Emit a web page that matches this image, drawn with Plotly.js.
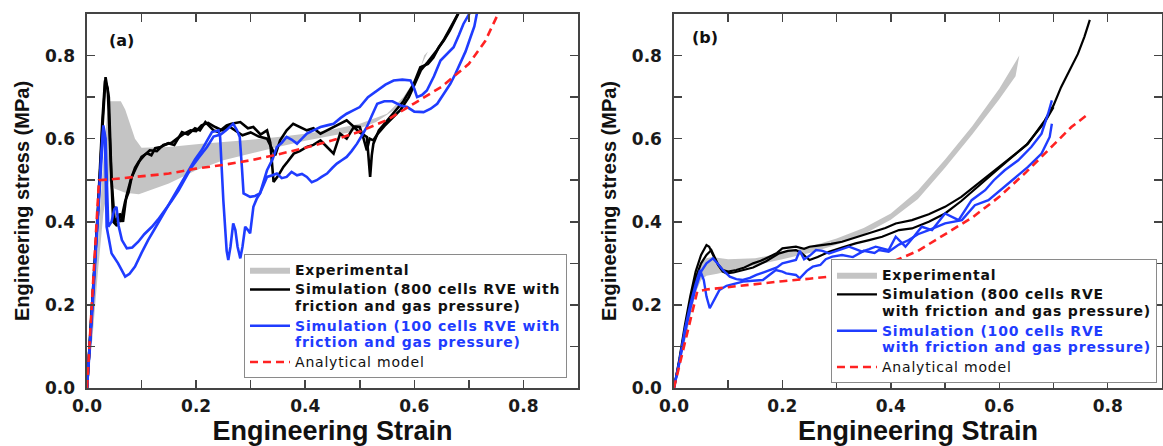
<!DOCTYPE html>
<html>
<head>
<meta charset="utf-8">
<script src="https://cdn.plot.ly/plotly-3.0.1.min.js"></script>
<style>html,body{margin:0;padding:0;background:#fff;}#chart{width:1163px;height:446px;}</style>
</head>
<body>
<div id="chart"></div>
<script>
// ---------------- Panel (a) ----------------
const aExpUpperStrain = [0,0.01,0.02,0.03,0.037,0.042,0.062,0.07,0.078,0.088,0.10,0.15,0.21,0.29,0.35,0.40,0.45,0.50,0.55,0.58,0.60,0.625];
const aExpUpperStress = [0,0.17,0.35,0.55,0.66,0.69,0.69,0.67,0.64,0.60,0.578,0.58,0.588,0.596,0.604,0.612,0.622,0.636,0.66,0.70,0.74,0.81];
const aExpLowerStrain = [0,0.01,0.02,0.03,0.04,0.05,0.07,0.095,0.15,0.2,0.25,0.29,0.35,0.40,0.48,0.53,0.57,0.60,0.618];
const aExpLowerStress = [0,0.12,0.28,0.42,0.50,0.48,0.47,0.466,0.492,0.524,0.548,0.56,0.58,0.595,0.615,0.64,0.675,0.72,0.80];

const aSim800Run1Strain = [0,0.01,0.02,0.028,0.034,0.04,0.045,0.051,0.056,0.062,0.07,0.076,0.082,0.09,0.1,0.11,0.118,0.125,0.135,0.149,0.16,0.174,0.185,0.198,0.207,0.217,0.232,0.241,0.256,0.265,0.281,0.295,0.305,0.318,0.33,0.336,0.339,0.342,0.35,0.36,0.368,0.379,0.39,0.403,0.415,0.428,0.44,0.452,0.464,0.476,0.489,0.5,0.513,0.519,0.522,0.525,0.535,0.548,0.562,0.58,0.599,0.611,0.625,0.635,0.645,0.654,0.665,0.678,0.684];
const aSim800Run1Stress = [0,0.2,0.42,0.62,0.748,0.7,0.5,0.396,0.41,0.4,0.45,0.47,0.508,0.53,0.556,0.565,0.56,0.577,0.58,0.589,0.585,0.616,0.61,0.625,0.62,0.64,0.62,0.616,0.632,0.636,0.64,0.625,0.628,0.61,0.62,0.59,0.548,0.496,0.51,0.532,0.545,0.564,0.57,0.58,0.585,0.596,0.58,0.564,0.612,0.6,0.628,0.615,0.604,0.508,0.56,0.588,0.62,0.64,0.66,0.69,0.732,0.772,0.78,0.795,0.82,0.836,0.86,0.897,0.91];
const aSim800Run2Strain = [0,0.01,0.02,0.028,0.033,0.038,0.043,0.048,0.055,0.06,0.066,0.072,0.08,0.088,0.095,0.105,0.115,0.128,0.14,0.155,0.165,0.178,0.19,0.2,0.21,0.222,0.235,0.248,0.26,0.27,0.285,0.3,0.315,0.33,0.345,0.354,0.366,0.378,0.39,0.403,0.415,0.428,0.44,0.452,0.464,0.476,0.488,0.5,0.507,0.513,0.518,0.525,0.532,0.545,0.56,0.575,0.59,0.6,0.612,0.625,0.64,0.655,0.668,0.68];
const aSim800Run2Stress = [0,0.21,0.43,0.64,0.74,0.72,0.55,0.4,0.39,0.42,0.4,0.46,0.5,0.53,0.545,0.56,0.572,0.57,0.585,0.59,0.6,0.612,0.62,0.618,0.632,0.638,0.628,0.62,0.63,0.622,0.608,0.615,0.605,0.6,0.56,0.596,0.62,0.636,0.628,0.62,0.625,0.612,0.62,0.628,0.635,0.644,0.63,0.628,0.6,0.572,0.6,0.596,0.61,0.63,0.65,0.67,0.7,0.73,0.765,0.785,0.81,0.84,0.87,0.9];

const aSim100Run1Strain = [0,0.01,0.02,0.026,0.03,0.034,0.037,0.039,0.045,0.05,0.054,0.058,0.064,0.073,0.083,0.094,0.105,0.119,0.13,0.143,0.155,0.168,0.18,0.192,0.205,0.22,0.232,0.245,0.255,0.268,0.275,0.28,0.284,0.287,0.299,0.308,0.317,0.33,0.34,0.348,0.357,0.366,0.375,0.385,0.394,0.403,0.412,0.421,0.43,0.44,0.45,0.458,0.467,0.476,0.485,0.495,0.505,0.513,0.522,0.532,0.545,0.56,0.575,0.587,0.6,0.617,0.63,0.642,0.655,0.666,0.675,0.684,0.694,0.703,0.71,0.716];
const aSim100Run1Stress = [0,0.2,0.42,0.56,0.632,0.6,0.45,0.388,0.4,0.43,0.436,0.39,0.356,0.336,0.338,0.352,0.37,0.388,0.405,0.428,0.45,0.476,0.505,0.532,0.555,0.58,0.605,0.61,0.62,0.636,0.62,0.604,0.53,0.468,0.46,0.462,0.468,0.508,0.512,0.516,0.505,0.508,0.52,0.512,0.515,0.508,0.495,0.5,0.508,0.516,0.53,0.54,0.548,0.556,0.57,0.588,0.61,0.628,0.655,0.684,0.69,0.69,0.68,0.676,0.665,0.664,0.672,0.684,0.71,0.732,0.755,0.78,0.81,0.844,0.87,0.91];
const aSim100Run2Strain = [0,0.01,0.02,0.026,0.03,0.033,0.036,0.04,0.045,0.057,0.07,0.078,0.088,0.1,0.112,0.125,0.137,0.149,0.161,0.174,0.186,0.198,0.21,0.22,0.229,0.241,0.244,0.25,0.256,0.259,0.263,0.268,0.272,0.276,0.281,0.285,0.29,0.295,0.299,0.305,0.311,0.317,0.323,0.33,0.34,0.348,0.357,0.366,0.375,0.385,0.394,0.403,0.415,0.428,0.44,0.452,0.465,0.476,0.488,0.5,0.515,0.532,0.547,0.562,0.578,0.593,0.6,0.605,0.614,0.623,0.636,0.648,0.66,0.672,0.682,0.69,0.705];
const aSim100Run2Stress = [0,0.19,0.41,0.55,0.625,0.6,0.388,0.36,0.324,0.3,0.268,0.275,0.292,0.325,0.356,0.385,0.412,0.44,0.468,0.495,0.524,0.55,0.572,0.595,0.616,0.62,0.604,0.45,0.33,0.308,0.34,0.396,0.38,0.34,0.312,0.34,0.388,0.38,0.372,0.436,0.455,0.468,0.495,0.524,0.55,0.58,0.59,0.604,0.598,0.588,0.6,0.612,0.62,0.628,0.632,0.636,0.65,0.66,0.668,0.676,0.7,0.716,0.73,0.74,0.742,0.74,0.72,0.7,0.705,0.716,0.75,0.788,0.805,0.82,0.85,0.876,0.91];

const aModelStrain = [0,0.022,0.05,0.1,0.15,0.2,0.25,0.3,0.35,0.4,0.45,0.5,0.55,0.6,0.65,0.7,0.73,0.757];
const aModelStress = [0,0.5,0.503,0.51,0.516,0.528,0.537,0.548,0.562,0.578,0.596,0.617,0.645,0.685,0.725,0.78,0.835,0.91];

// ---------------- Panel (b) ----------------
const bExpUpperStrain = [0,0.02,0.04,0.05,0.06,0.07,0.1,0.15,0.2,0.25,0.3,0.35,0.4,0.45,0.5,0.55,0.6,0.637];
const bExpUpperStress = [0,0.13,0.26,0.30,0.312,0.315,0.31,0.312,0.325,0.34,0.36,0.385,0.42,0.475,0.55,0.63,0.72,0.80];
const bExpLowerStrain = [0,0.02,0.04,0.05,0.06,0.08,0.1,0.15,0.2,0.25,0.3,0.35,0.4,0.45,0.5,0.55,0.6,0.63];
const bExpLowerStress = [0,0.11,0.23,0.26,0.27,0.275,0.28,0.295,0.31,0.325,0.345,0.37,0.405,0.455,0.53,0.61,0.695,0.75];

const bSim800Run1Strain = [0,0.01,0.02,0.03,0.04,0.05,0.06,0.065,0.072,0.08,0.09,0.1,0.115,0.13,0.146,0.16,0.176,0.19,0.2,0.213,0.225,0.24,0.25,0.262,0.274,0.29,0.31,0.325,0.341,0.356,0.372,0.39,0.409,0.439,0.47,0.5,0.53,0.561,0.59,0.623,0.653,0.684,0.7,0.714,0.73,0.745,0.757,0.767];
const bSim800Run1Stress = [0,0.07,0.15,0.22,0.28,0.32,0.344,0.34,0.32,0.3,0.284,0.28,0.284,0.29,0.3,0.306,0.316,0.325,0.336,0.338,0.34,0.335,0.34,0.342,0.344,0.347,0.352,0.358,0.364,0.37,0.376,0.385,0.396,0.404,0.418,0.436,0.46,0.492,0.52,0.556,0.588,0.644,0.68,0.724,0.765,0.804,0.845,0.886];
const bSim800Run2Strain = [0,0.01,0.02,0.03,0.04,0.05,0.06,0.069,0.075,0.082,0.09,0.097,0.11,0.125,0.146,0.17,0.194,0.21,0.225,0.235,0.25,0.265,0.286,0.31,0.335,0.36,0.384,0.415,0.439,0.47,0.5,0.53,0.561,0.59,0.62,0.65,0.684,0.7];
const bSim800Run2Stress = [0,0.065,0.14,0.21,0.265,0.3,0.32,0.332,0.315,0.295,0.28,0.276,0.278,0.283,0.29,0.305,0.324,0.33,0.332,0.325,0.308,0.315,0.328,0.338,0.348,0.356,0.364,0.38,0.384,0.4,0.42,0.45,0.484,0.518,0.552,0.585,0.64,0.676];

const bSim100Run1Strain = [0,0.01,0.02,0.03,0.04,0.05,0.06,0.072,0.08,0.09,0.103,0.115,0.127,0.14,0.152,0.165,0.176,0.19,0.2,0.213,0.225,0.232,0.24,0.25,0.262,0.274,0.286,0.3,0.31,0.323,0.335,0.347,0.36,0.372,0.384,0.396,0.409,0.427,0.443,0.457,0.476,0.5,0.525,0.549,0.574,0.59,0.61,0.635,0.659,0.678,0.69,0.697];
const bSim100Run1Stress = [0,0.06,0.13,0.19,0.24,0.28,0.3,0.312,0.3,0.284,0.268,0.262,0.26,0.265,0.272,0.278,0.284,0.29,0.3,0.305,0.308,0.33,0.31,0.318,0.332,0.33,0.324,0.33,0.335,0.34,0.334,0.328,0.334,0.34,0.336,0.332,0.364,0.34,0.365,0.388,0.38,0.42,0.404,0.452,0.476,0.5,0.524,0.548,0.58,0.612,0.66,0.692];
const bSim100Run2Strain = [0,0.01,0.02,0.03,0.04,0.048,0.055,0.06,0.066,0.075,0.084,0.097,0.11,0.127,0.145,0.164,0.176,0.188,0.2,0.207,0.225,0.232,0.245,0.256,0.27,0.28,0.292,0.31,0.33,0.35,0.37,0.378,0.396,0.415,0.433,0.45,0.47,0.5,0.531,0.555,0.58,0.598,0.623,0.653,0.678,0.693,0.697];
const bSim100Run2Stress = [0,0.065,0.14,0.2,0.25,0.284,0.26,0.22,0.192,0.215,0.236,0.246,0.25,0.256,0.258,0.26,0.272,0.284,0.28,0.276,0.272,0.264,0.282,0.292,0.296,0.31,0.316,0.32,0.315,0.33,0.325,0.332,0.328,0.345,0.356,0.37,0.38,0.396,0.404,0.44,0.452,0.472,0.5,0.532,0.564,0.604,0.636];

const bModelStrain = [0,0.043,0.06,0.1,0.15,0.2,0.25,0.3,0.35,0.4,0.45,0.5,0.55,0.6,0.65,0.7,0.733,0.765];
const bModelStress = [0,0.232,0.237,0.243,0.25,0.257,0.263,0.27,0.283,0.302,0.33,0.37,0.41,0.46,0.52,0.585,0.628,0.66];

// ---------------- Labels ----------------
const panelLabels = ['(a)', '(b)'];
const xTitle = 'Engineering Strain';
const yTitle = 'Engineering stress (MPa)';
const legendExp = 'Experimental';
const legendSim800 = ['Simulation (800 cells RVE with<br>friction and gas pressure)', 'Simulation (800 cells RVE<br>with friction and gas pressure)'];
const legendSim100 = ['Simulation (100 cells RVE with<br>friction and gas pressure)', 'Simulation (100 cells RVE<br>with friction and gas pressure)'];
const legendModel = 'Analytical model';

// ---------------- Styles ----------------
const C_BLACK = '#000000', C_BLUE = '#1f3cff', C_RED = '#ff2222', C_GRAY = 'rgb(196,196,196)';
const LEG_SPAN = 'font-size:14px;letter-spacing:0.8px';

function band(us, uy, ls, ly, xa, ya, leg, name) {
  return {
    x: us.concat(ls.slice().reverse()), y: uy.concat(ly.slice().reverse()),
    xaxis: xa, yaxis: ya, type: 'scatter', mode: 'lines', fill: 'toself',
    fillcolor: C_GRAY, line: {color: 'rgba(150,150,150,0.9)', width: 0},
    name: name, legend: leg, showlegend: true, hoverinfo: 'skip'
  };
}
function curve(xs, ys, xa, ya, color, width, leg, name, show, dash) {
  return {
    x: xs, y: ys, xaxis: xa, yaxis: ya, type: 'scatter', mode: 'lines',
    line: {color: color, width: width, dash: dash || 'solid'},
    name: name, legend: leg, showlegend: show, legendgroup: leg + name.slice(0, 60)
  };
}
const span = (t, extra) => '<span style="' + LEG_SPAN + (extra ? ';' + extra : '') + '">' + t + '</span>';

const traces = [
  band(aExpUpperStrain, aExpUpperStress, aExpLowerStrain, aExpLowerStress, 'x', 'y', 'legend', span(legendExp)),
  curve(aSim800Run1Strain, aSim800Run1Stress, 'x', 'y', C_BLACK, 2.6, 'legend', span(legendSim800[0]), true),
  curve(aSim800Run2Strain, aSim800Run2Stress, 'x', 'y', C_BLACK, 2.6, 'legend', span(legendSim800[0]), false),
  curve(aSim100Run1Strain, aSim100Run1Stress, 'x', 'y', C_BLUE, 2.6, 'legend', span(legendSim100[0], 'color:' + C_BLUE), true),
  curve(aSim100Run2Strain, aSim100Run2Stress, 'x', 'y', C_BLUE, 2.6, 'legend', span(legendSim100[0], 'color:' + C_BLUE), false),
  curve(aModelStrain, aModelStress, 'x', 'y', C_RED, 2.6, 'legend', span(legendModel, 'font-weight:normal'), true, '8px,5px'),

  band(bExpUpperStrain, bExpUpperStress, bExpLowerStrain, bExpLowerStress, 'x2', 'y2', 'legend2', span(legendExp)),
  curve(bSim800Run1Strain, bSim800Run1Stress, 'x2', 'y2', C_BLACK, 2.2, 'legend2', span(legendSim800[1]), true),
  curve(bSim800Run2Strain, bSim800Run2Stress, 'x2', 'y2', C_BLACK, 2.2, 'legend2', span(legendSim800[1]), false),
  curve(bSim100Run1Strain, bSim100Run1Stress, 'x2', 'y2', C_BLUE, 2.4, 'legend2', span(legendSim100[1], 'color:' + C_BLUE), true),
  curve(bSim100Run2Strain, bSim100Run2Stress, 'x2', 'y2', C_BLUE, 2.4, 'legend2', span(legendSim100[1], 'color:' + C_BLUE), false),
  curve(bModelStrain, bModelStress, 'x2', 'y2', C_RED, 2.6, 'legend2', span(legendModel, 'font-weight:normal'), true, '8px,5px')
];

const tickFont = {family: 'DejaVu Sans', size: 17, weight: 'bold', color: '#1a1a1a'};
function axis(domain, anchor, title, isX) {
  return {
    domain: domain, anchor: anchor, range: [0, 0.9], dtick: 0.2, tick0: 0, tickformat: '.1f',
    ticks: 'inside', ticklen: 8, tickwidth: 1.5, tickcolor: '#444',
    minor: {dtick: 0.1, ticks: 'inside', ticklen: 8, tickwidth: 1.5, tickcolor: '#444', showgrid: false},
    showline: true, linecolor: '#444', linewidth: 1.6, mirror: 'allticks',
    showgrid: false, zeroline: false, tickfont: tickFont, ticklabelstandoff: isX ? 2 : 7,
    fixedrange: true,
    title: {text: title, standoff: isX ? 5 : 10,
            font: {family: 'Liberation Sans', size: isX ? 27 : 20, weight: 'bold', color: '#111'}}
  };
}
const legendBase = {
  bgcolor: '#ffffff', bordercolor: '#8a8a8a', borderwidth: 1,
  font: {family: 'DejaVu Sans', size: 12.8, color: '#111', weight: 'bold'},
  itemwidth: 40, valign: 'top', traceorder: 'normal', tracegroupgap: 0,
  xanchor: 'right', yanchor: 'bottom', xref: 'paper', yref: 'paper'
};
const layout = {
  width: 1163, height: 446,
  margin: {l: 87, r: 0, t: 14, b: 58},
  paper_bgcolor: '#ffffff', plot_bgcolor: '#ffffff',
  xaxis: axis([0, 0.4563], 'y', xTitle, true),
  yaxis: axis([0, 1], 'x', yTitle, false),
  xaxis2: axis([0.5455, 0.999], 'y2', xTitle, true),
  yaxis2: axis([0, 1], 'x2', yTitle, false),
  legend: Object.assign({}, legendBase, {x: 0.4461, y: 0.0267}),
  legend2: Object.assign({}, legendBase, {x: 0.9944, y: 0.0134}),
  annotations: [
    {text: panelLabels[0], xref: 'x domain', yref: 'y domain', x: 0.04, y: 0.93, xanchor: 'left', yanchor: 'middle', showarrow: false, font: {family: 'DejaVu Sans', size: 16, weight: 'bold', color: '#111'}},
    {text: panelLabels[1], xref: 'x2 domain', yref: 'y2 domain', x: 0.033, y: 0.937, xanchor: 'left', yanchor: 'middle', showarrow: false, font: {family: 'DejaVu Sans', size: 16, weight: 'bold', color: '#111'}}
  ],
  showlegend: true
};
Plotly.newPlot('chart', traces, layout, {displayModeBar: false, staticPlot: true});
</script>
</body>
</html>
